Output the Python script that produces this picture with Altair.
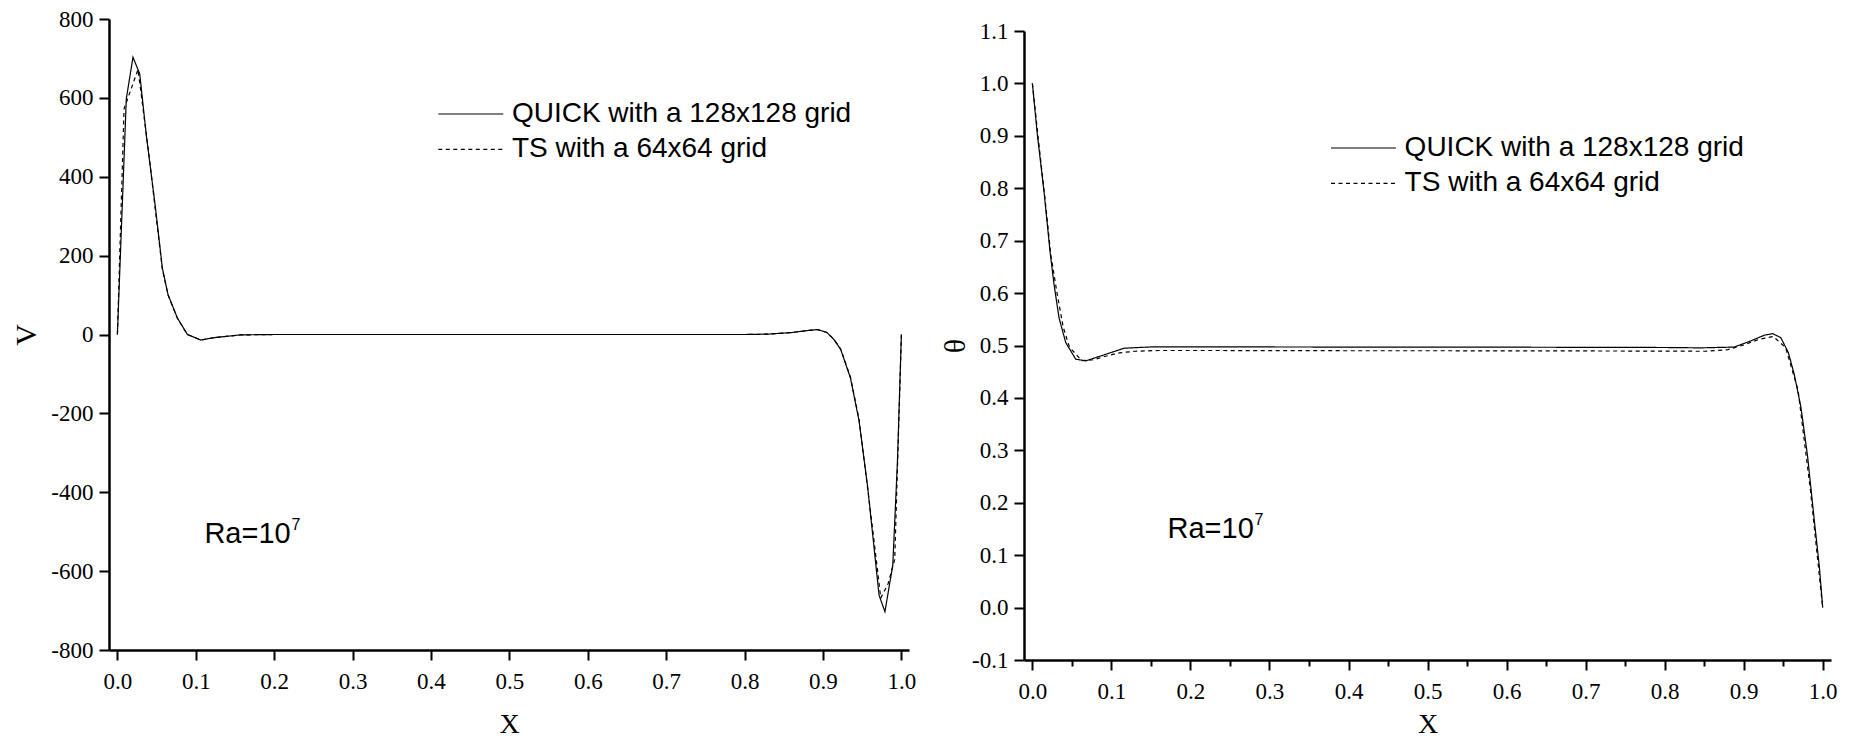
import altair as alt
import pandas as pd

# ---------------- data ----------------
series_names = ["QUICK with a 128x128 grid", "TS with a 64x64 grid"]

# Left panel: V velocity profile
v_quick_x = [0.0, 0.0114, 0.0199, 0.0285, 0.0369, 0.0476, 0.0574, 0.0646, 0.0765, 0.0893,
             0.1063, 0.1233, 0.157, 0.2, 0.3, 0.4, 0.5, 0.6, 0.7, 0.8, 0.83, 0.86, 0.88,
             0.893, 0.905, 0.914, 0.9226, 0.935, 0.946, 0.957, 0.9715, 0.979, 0.989, 0.995, 1.0]
v_quick_y = [0, 598, 703, 661, 505, 337, 168, 101, 42, 0,
             -14, -8, -1, 0, 0, 0, 0, 0, 0, 0, 1, 5, 10,
             12.6, 5, -12.6, -38, -110, -219, -387, -661, -703, -585, -320, 0]

v_ts_x = [0.0, 0.0085, 0.0263, 0.04, 0.0476, 0.0574, 0.0646, 0.0765, 0.0893,
          0.1063, 0.1233, 0.157, 0.2, 0.3, 0.4, 0.5, 0.6, 0.7, 0.8, 0.83, 0.86, 0.88,
          0.893, 0.905, 0.914, 0.9226, 0.935, 0.946, 0.963, 0.9737, 0.983, 0.9915, 1.0]
v_ts_y = [0, 572, 672, 460, 330, 165, 100, 41, 0,
          -14, -8, -1, 0, 0, 0, 0, 0, 0, 0, 1, 5, 10,
          12.4, 5, -12.4, -37, -108, -215, -488, -668, -632, -570, 0]

# Right panel: temperature profile
t_quick_x = [0.0, 0.0063, 0.0147, 0.0223, 0.0274, 0.0337, 0.0422, 0.0548, 0.0675, 0.0865,
             0.116, 0.15, 0.2, 0.3, 0.4, 0.5, 0.6, 0.7, 0.8, 0.846, 0.888, 0.909, 0.926,
             0.9367, 0.947, 0.9565, 0.964, 0.9725, 0.981, 0.9894, 0.9958, 1.0]
t_quick_y = [1.0, 0.902, 0.794, 0.680, 0.6166, 0.553, 0.5055, 0.474, 0.4707, 0.480,
             0.4948, 0.4973, 0.4973, 0.4972, 0.4970, 0.4970, 0.4968, 0.4965, 0.4962, 0.4955, 0.497, 0.5087, 0.5196,
             0.5226, 0.515, 0.4865, 0.445, 0.382, 0.287, 0.166, 0.0775, 0.0]

t_ts_x = [0.0, 0.0078, 0.0156, 0.0234, 0.0312, 0.039, 0.0469, 0.0625, 0.0781, 0.0938,
          0.11, 0.13, 0.16, 0.2, 0.3, 0.4, 0.5, 0.6, 0.7, 0.8, 0.85, 0.88, 0.9, 0.92,
          0.9375, 0.9531, 0.9688, 0.9844, 1.0]
t_ts_y = [1.0, 0.890, 0.785, 0.672, 0.600, 0.535, 0.497, 0.471, 0.473, 0.480,
          0.486, 0.489, 0.4905, 0.4905, 0.4903, 0.4900, 0.4900, 0.4898, 0.4896, 0.4893, 0.489, 0.492, 0.501, 0.512,
          0.517, 0.496, 0.415, 0.225, 0.0]

x_tick_values = [0.0, 0.05, 0.1, 0.15, 0.2, 0.25, 0.3, 0.35, 0.4, 0.45, 0.5,
                 0.55, 0.6, 0.65, 0.7, 0.75, 0.8, 0.85, 0.9, 0.95, 1.0]
v_tick_values = [-800, -700, -600, -500, -400, -300, -200, -100, 0,
                 100, 200, 300, 400, 500, 600, 700, 800]
t_tick_values = [-0.1, -0.05, 0.0, 0.05, 0.1, 0.15, 0.2, 0.25, 0.3, 0.35, 0.4, 0.45, 0.5,
                 0.55, 0.6, 0.65, 0.7, 0.75, 0.8, 0.85, 0.9, 0.95, 1.0, 1.05, 1.1]

ann_v = {"x": [0.111], "y": [-506], "base": ["Ra=10"], "sup": ["7"]}
ann_t = {"x": [0.171], "y": [0.150], "base": ["Ra=10"], "sup": ["7"]}

# ---------------- build tables ----------------
def series_df(xq, yq, xt, yt):
    a = pd.DataFrame({"x": xq, "y": yq, "series": series_names[0], "i": range(len(xq))})
    b = pd.DataFrame({"x": xt, "y": yt, "series": series_names[1], "i": range(len(xt))})
    return pd.concat([a, b], ignore_index=True)

df_v = series_df(v_quick_x, v_quick_y, v_ts_x, v_ts_y)
df_t = series_df(t_quick_x, t_quick_y, t_ts_x, t_ts_y)

SERIF = "Liberation Serif"
SANS = "Liberation Sans"

major_x = "abs(round(datum.value*10) - datum.value*10) < 0.001"
hy = "replace({f}, '\u2212', '-')"

# legend sample line: a long horizontal stroke that ends at the label column
LEGEND_SYMBOL = "M-10,0H1"
LEGEND_SYMBOL_SIZE = 139.7


def panel(df, ann, xdomain, ydomain, yvalues, ymajor_test, ylabel_fmt, ytitle,
          width, height, legend_x, legend_y, ytitle_pad, xtitle_pad):
    xs = alt.Scale(domain=xdomain, nice=False, zero=False)
    ys = alt.Scale(domain=ydomain, nice=False, zero=False)
    xaxis = alt.Axis(
        values=x_tick_values, title="X",
        labelExpr=f"{major_x} ? format(datum.value, '.1f') : ''",
        tickSize={"condition": {"test": major_x, "value": 10}, "value": 6},
        labelOverlap=False, labelFlush=False, labelPadding=10, titlePadding=xtitle_pad,
    )
    yaxis = alt.Axis(
        values=yvalues, title=ytitle,
        labelExpr=f"{ymajor_test} ? " + hy.format(f=f"format(datum.value, '{ylabel_fmt}')") + " : ''",
        tickSize={"condition": {"test": ymajor_test, "value": 10}, "value": 6},
        labelOverlap=False, labelFlush=False, labelPadding=6, titlePadding=ytitle_pad,
    )
    lines = alt.Chart(df).mark_line(color="black", strokeWidth=1.2, clip=True).encode(
        x=alt.X("x:Q", scale=xs, axis=xaxis),
        y=alt.Y("y:Q", scale=ys, axis=yaxis),
        order="i:Q",
        strokeDash=alt.StrokeDash(
            "series:N",
            scale=alt.Scale(domain=series_names, range=[[1, 0], [4, 3.5]]),
            legend=alt.Legend(
                orient="none", legendX=legend_x, legendY=legend_y, title=None,
                symbolType=LEGEND_SYMBOL, symbolSize=LEGEND_SYMBOL_SIZE,
                symbolStrokeWidth=1.2, symbolStrokeColor="black",
                symbolFillColor="transparent",
                labelFont=SANS, labelFontSize=28,
                labelColor="black", labelLimit=1000, labelOffset=0.5, rowPadding=7.4,
                padding=0,
            ),
        ),
    )
    adf = pd.DataFrame(ann)
    base_txt = alt.Chart(adf).mark_text(
        align="left", baseline="middle", font=SANS, fontSize=29, color="black"
    ).encode(x=alt.X("x:Q", scale=xs), y=alt.Y("y:Q", scale=ys), text="base:N")
    sup_txt = alt.Chart(adf).mark_text(
        align="left", baseline="middle", font=SANS, fontSize=16, color="black", dx=87, dy=-9
    ).encode(x=alt.X("x:Q", scale=xs), y=alt.Y("y:Q", scale=ys), text="sup:N")
    return alt.layer(lines, base_txt, sup_txt).properties(width=width, height=height)


left = panel(
    df_v, ann_v, [-0.0107, 1.0097], [-800, 800], v_tick_values,
    "abs(datum.value) % 200 == 0", "d",
    "V", 800, 631, 374.4, 81, 9, 17.5,
)
right = panel(
    df_t, ann_t, [-0.0106, 1.0105], [-0.1, 1.1], t_tick_values,
    "abs(round(datum.value*10) - datum.value*10) < 0.001", ".1f",
    "θ", 807, 629, 352.1, 115, 1, 7,
)

# small empty spacer that lowers the right panel relative to the left one
spacer = alt.Chart(pd.DataFrame({"a": [0]})).mark_point(
    size=0, strokeWidth=0, opacity=0
).properties(width=1, height=1)

right_col = alt.vconcat(spacer, right, spacing=0)

chart = alt.hconcat(left, right_col, spacing=24).resolve_scale(
    strokeDash="independent"
).resolve_legend(strokeDash="independent").configure_view(stroke=None).configure_axis(
    domainColor="black", domainWidth=2.5, tickColor="black", tickWidth=2,
    labelColor="black", labelFont=SERIF, labelFontSize=23,
    titleFont=SERIF, titleFontSize=30, titleFontWeight="normal", titleColor="black",
    grid=False,
).configure_axisX(titleFontSize=28).properties(
    padding={"left": 3, "top": 0, "right": 0, "bottom": 0}
)

chart.save("out.html", embed_options={"renderer": "svg", "actions": False})
